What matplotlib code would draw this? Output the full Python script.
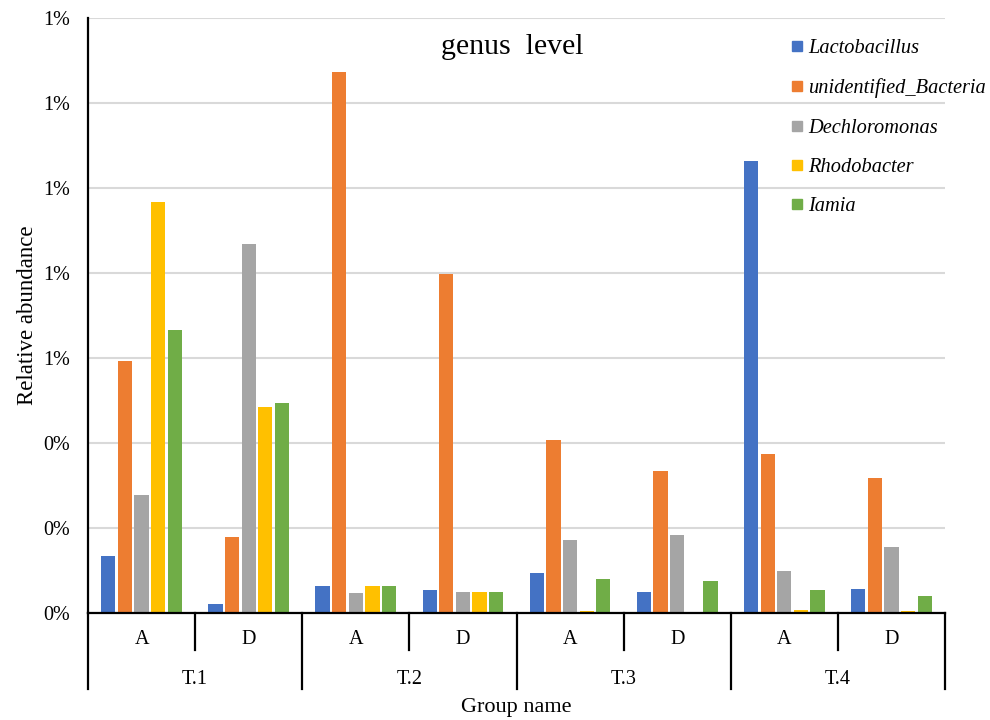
import matplotlib.pyplot as plt
from matplotlib.lines import Line2D
from matplotlib.ticker import FuncFormatter, MultipleLocator

# treatment groups and sub-groups along the x axis
groups = ["T.1", "T.2", "T.3", "T.4"]
subgroups = ["A", "D"]

# genera shown in the legend
genera = ["Lactobacillus", "unidentified_Bacteria", "Dechloromonas", "Rhodobacter", "Iamia"]
colors = ["#4472C4", "#ED7D31", "#A5A5A5", "#FFC000", "#70AD47"]

# relative abundance (%), order: T.1 A, T.1 D, T.2 A, T.2 D, T.3 A, T.3 D, T.4 A, T.4 D
lactobacillus = [0.133, 0.022, 0.063, 0.055, 0.093, 0.050, 1.064, 0.057]
unidentified_bacteria = [0.592, 0.180, 1.274, 0.798, 0.406, 0.335, 0.374, 0.318]
dechloromonas = [0.278, 0.869, 0.047, 0.050, 0.171, 0.184, 0.100, 0.155]
rhodobacter = [0.966, 0.485, 0.063, 0.050, 0.005, 0.0, 0.006, 0.004]
iamia = [0.666, 0.495, 0.063, 0.050, 0.079, 0.076, 0.055, 0.039]

series = [lactobacillus, unidentified_bacteria, dechloromonas, rhodobacter, iamia]

plt.rcParams["font.family"] = ["Liberation Serif", "DejaVu Serif"]

fig = plt.figure(figsize=(9.9, 7.2), dpi=100)
ax = fig.add_axes([88 / 990, 1 - 613 / 720, (945 - 88) / 990, (613 - 18) / 720])

n_cat = len(groups) * len(subgroups)
step = 0.155
for k, (vals, col) in enumerate(zip(series, colors)):
    xs = [i + 0.5 + (k - 2) * step for i in range(n_cat)]
    ax.bar(xs, vals, width=step * 0.86, color=col, edgecolor="none", zorder=3)

ax.set_xlim(0, n_cat)
ax.set_ylim(0, 1.4)
ax.yaxis.set_major_locator(MultipleLocator(0.2))
ax.yaxis.set_major_formatter(FuncFormatter(lambda v, p: "{:.0f}%".format(v)))
ax.grid(axis="y", color="#D9D9D9", linewidth=1.5, zorder=0)
ax.tick_params(axis="y", length=0, pad=13, labelsize=14.5)
ax.set_xticks([])

for s in ["top", "right"]:
    ax.spines[s].set_visible(False)
ax.spines["left"].set_linewidth(1.6)
ax.spines["bottom"].set_linewidth(1.6)
ax.spines["bottom"].set_zorder(4)

# multi level category axis
tr = ax.get_xaxis_transform()
for i in range(n_cat + 1):
    bottom = -0.128 if i % 2 == 0 else -0.062
    ax.plot([i, i], [0, bottom], color="black", lw=1.6, transform=tr, clip_on=False)
for i in range(n_cat):
    ax.text(i + 0.5, -0.044, subgroups[i % 2], transform=tr, ha="center", va="center", fontsize=14.5)
for j, g in enumerate(groups):
    ax.text(2 * j + 1, -0.111, g, transform=tr, ha="center", va="center", fontsize=14.5)

ax.text(0.5, -0.158, "Group name", transform=ax.transAxes, ha="center", va="center", fontsize=16)
ax.set_ylabel("Relative abundance", fontsize=16.5, labelpad=4)

fig.text(512 / 990, 1 - 47 / 720, "genus  level", ha="center", va="center", fontsize=21.5)

handles = [Line2D([], [], marker="s", linestyle="none", markersize=7, color=c) for c in colors]
fig.legend(handles, genera, loc="upper left", bbox_to_anchor=(783 / 990, 1 - 31 / 720),
           frameon=False, prop={"style": "italic", "size": 14.7},
           handlelength=0.6, handletextpad=0.25, labelspacing=0.98, borderaxespad=0)

fig.savefig("out.png", dpi=100)
